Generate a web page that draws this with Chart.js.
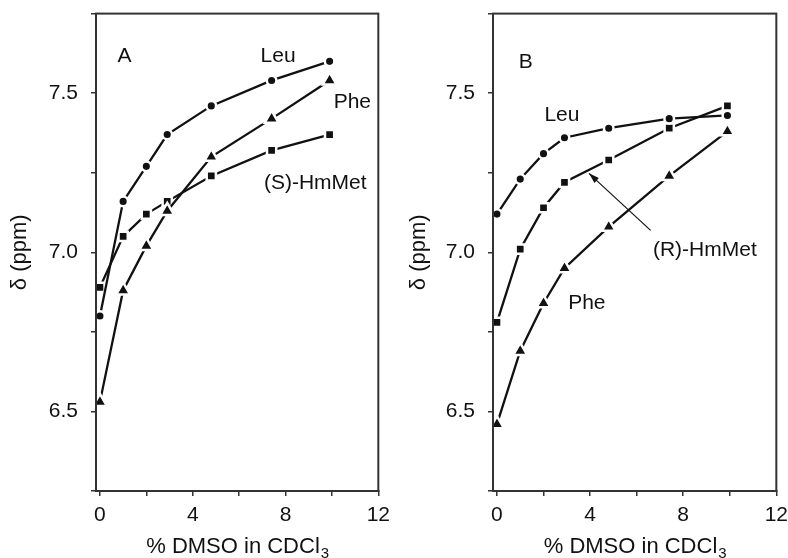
<!DOCTYPE html>
<html>
<head>
<meta charset="utf-8">
<script src="https://cdn.jsdelivr.net/npm/chart.js@4.4.0/dist/chart.umd.min.js"></script>
<style>
  html, body { margin: 0; background: #fff; overflow: hidden; width: 788px; height: 558px; }
  canvas { position: absolute; top: -12px; }
</style>
</head>
<body>
<canvas id="chart-a" width="397" height="570" style="left:0px"></canvas>
<canvas id="chart-b" width="401" height="570" style="left:394px"></canvas>
<script>
// % DMSO in CDCl3 (x values, same for all series)
const dmso = [0, 1, 2, 2.9, 4.8, 7.4, 9.9];

// panel A
const leuA = [6.80, 7.16, 7.27, 7.37, 7.46, 7.54, 7.60];
const pheA = [6.53, 6.88, 7.02, 7.13, 7.30, 7.42, 7.54];
const hmMetA = [6.89, 7.05, 7.12, 7.16, 7.24, 7.32, 7.37];

// panel B
const leuB = [7.12, 7.23, 7.31, 7.36, 7.39, 7.42, 7.43];
const pheB = [6.46, 6.69, 6.84, 6.95, 7.08, 7.24, 7.38];
const hmMetB = [6.78, 7.01, 7.14, 7.22, 7.29, 7.39, 7.46];

const xTicks = [0, 2, 4, 6, 8, 10, 12];
const xTickLabels = ['0', '', '4', '', '8', '', '12'];
const yTicks = [6.25, 6.5, 6.75, 7.0, 7.25, 7.5, 7.75];
const yTickLabels = ['', '6.5', '', '7.0', '', '7.5', ''];

const FONT = '"Liberation Sans", Arial, Helvetica, sans-serif';
const INK = '#111';
const AXIS = '#333';

function series(values, style, radius) {
  return {
    data: dmso.map((x, i) => ({ x: x, y: values[i] })),
    borderColor: INK,
    borderWidth: 2.3,
    tension: 0,
    fill: false,
    pointStyle: style,
    pointRadius: radius,
    pointHoverRadius: radius,
    pointBackgroundColor: INK,
    pointBorderColor: '#fff',
    pointBorderWidth: 2.5
  };
}

// box, axis titles and in-plot labels
const decorations = {
  id: 'decorations',
  afterDraw(chart, args, opts) {
    const ctx = chart.ctx;
    const area = chart.chartArea;
    const xs = chart.scales.x;
    const ys = chart.scales.y;
    ctx.save();
    ctx.strokeStyle = AXIS;
    ctx.lineWidth = 2;
    ctx.strokeRect(area.left, area.top, area.right - area.left, area.bottom - area.top);

    ctx.fillStyle = INK;
    ctx.strokeStyle = INK;
    // y title
    ctx.save();
    ctx.translate(opts.yTitleX, (area.top + area.bottom) / 2);
    ctx.rotate(-Math.PI / 2);
    ctx.font = '22px ' + FONT;
    ctx.textAlign = 'center';
    ctx.textBaseline = 'middle';
    ctx.fillText('δ (ppm)', 0, 0);
    ctx.restore();

    // x title with subscript
    const main = '% DMSO in CDCl';
    ctx.font = '22px ' + FONT;
    const w1 = ctx.measureText(main).width;
    ctx.font = '15px ' + FONT;
    const w2 = ctx.measureText('3').width;
    const sx = (area.left + area.right) / 2 - (w1 + w2) / 2;
    ctx.textAlign = 'left';
    ctx.textBaseline = 'alphabetic';
    ctx.font = '22px ' + FONT;
    ctx.fillText(main, sx, chart.height - 5);
    ctx.font = '15px ' + FONT;
    ctx.fillText('3', sx + w1 + 1, chart.height);

    // labels
    ctx.font = '21px ' + FONT;
    ctx.textAlign = 'center';
    ctx.textBaseline = 'middle';
    opts.labels.forEach(l => {
      ctx.fillText(l.text, xs.getPixelForValue(l.x), ys.getPixelForValue(l.y));
    });

    // arrows
    (opts.arrows || []).forEach(a => {
      const x0 = xs.getPixelForValue(a.from[0]), y0 = ys.getPixelForValue(a.from[1]);
      const x1 = xs.getPixelForValue(a.to[0]), y1 = ys.getPixelForValue(a.to[1]);
      const ang = Math.atan2(y1 - y0, x1 - x0);
      ctx.lineWidth = 1.2;
      ctx.beginPath();
      ctx.moveTo(x0, y0);
      ctx.lineTo(x1, y1);
      ctx.stroke();
      ctx.beginPath();
      ctx.moveTo(x1, y1);
      ctx.lineTo(x1 - 11 * Math.cos(ang - 0.3), y1 - 11 * Math.sin(ang - 0.3));
      ctx.lineTo(x1 - 11 * Math.cos(ang + 0.3), y1 - 11 * Math.sin(ang + 0.3));
      ctx.closePath();
      ctx.fill();
    });
    ctx.restore();
  }
};

function makeChart(id, datasets, yAxisWidth, deco) {
  const ctx = document.getElementById(id).getContext('2d');
  return new Chart(ctx, {
    type: 'line',
    data: { datasets: datasets },
    plugins: [decorations],
    options: {
      responsive: false,
      animation: false,
      devicePixelRatio: 1,
      layout: { padding: 0 },
      plugins: {
        legend: { display: false },
        tooltip: { enabled: false },
        decorations: deco
      },
      scales: {
        x: {
          type: 'linear',
          min: -0.17,
          max: 12,
          afterBuildTicks: function(scale) {
            scale.ticks = xTicks.map(v => ({ value: v }));
          },
          afterFit: function(scale) {
            scale.height = 67;
          },
          ticks: {
            autoSkip: false,
            maxRotation: 0,
            padding: 7,
            color: INK,
            font: { family: FONT, size: 21 },
            callback: function(value, index) {
              return xTickLabels[index];
            }
          },
          grid: { drawOnChartArea: false, drawTicks: true, tickLength: 5, color: AXIS, lineWidth: 1.5 },
          border: { display: true, color: AXIS, width: 2 }
        },
        y: {
          type: 'linear',
          min: 6.25,
          max: 7.75,
          afterBuildTicks: function(scale) {
            scale.ticks = yTicks.map(v => ({ value: v }));
          },
          afterFit: function(scale) {
            scale.width = yAxisWidth;
          },
          ticks: {
            autoSkip: false,
            padding: 13,
            color: INK,
            font: { family: FONT, size: 21 },
            callback: function(value, index) {
              return yTickLabels[index];
            }
          },
          grid: { drawOnChartArea: false, drawTicks: true, tickLength: 5, color: AXIS, lineWidth: 1.5 },
          border: { display: true, color: AXIS, width: 2 }
        }
      }
    }
  });
}

makeChart('chart-a', [
  series(leuA, 'circle', 4.8),
  series(pheA, 'triangle', 8),
  series(hmMetA, 'rect', 6.5)
], 96, {
  yTitleX: 20,
  labels: [
    { text: 'A', x: 1.06, y: 7.615 },
    { text: 'Leu', x: 7.68, y: 7.615 },
    { text: 'Phe', x: 10.88, y: 7.473 },
    { text: '(S)-HmMet', x: 9.28, y: 7.217 }
  ]
});

makeChart('chart-b', [
  series(leuB, 'circle', 4.8),
  series(pheB, 'triangle', 8),
  series(hmMetB, 'rect', 6.5)
], 99, {
  yTitleX: 25,
  labels: [
    { text: 'B', x: 1.24, y: 7.598 },
    { text: 'Leu', x: 2.79, y: 7.431 },
    { text: '(R)-HmMet', x: 8.93, y: 7.006 },
    { text: 'Phe', x: 3.86, y: 6.84 }
  ],
  arrows: [
    { from: [6.6, 7.069], to: [3.95, 7.248] }
  ]
});
</script>
</body>
</html>
